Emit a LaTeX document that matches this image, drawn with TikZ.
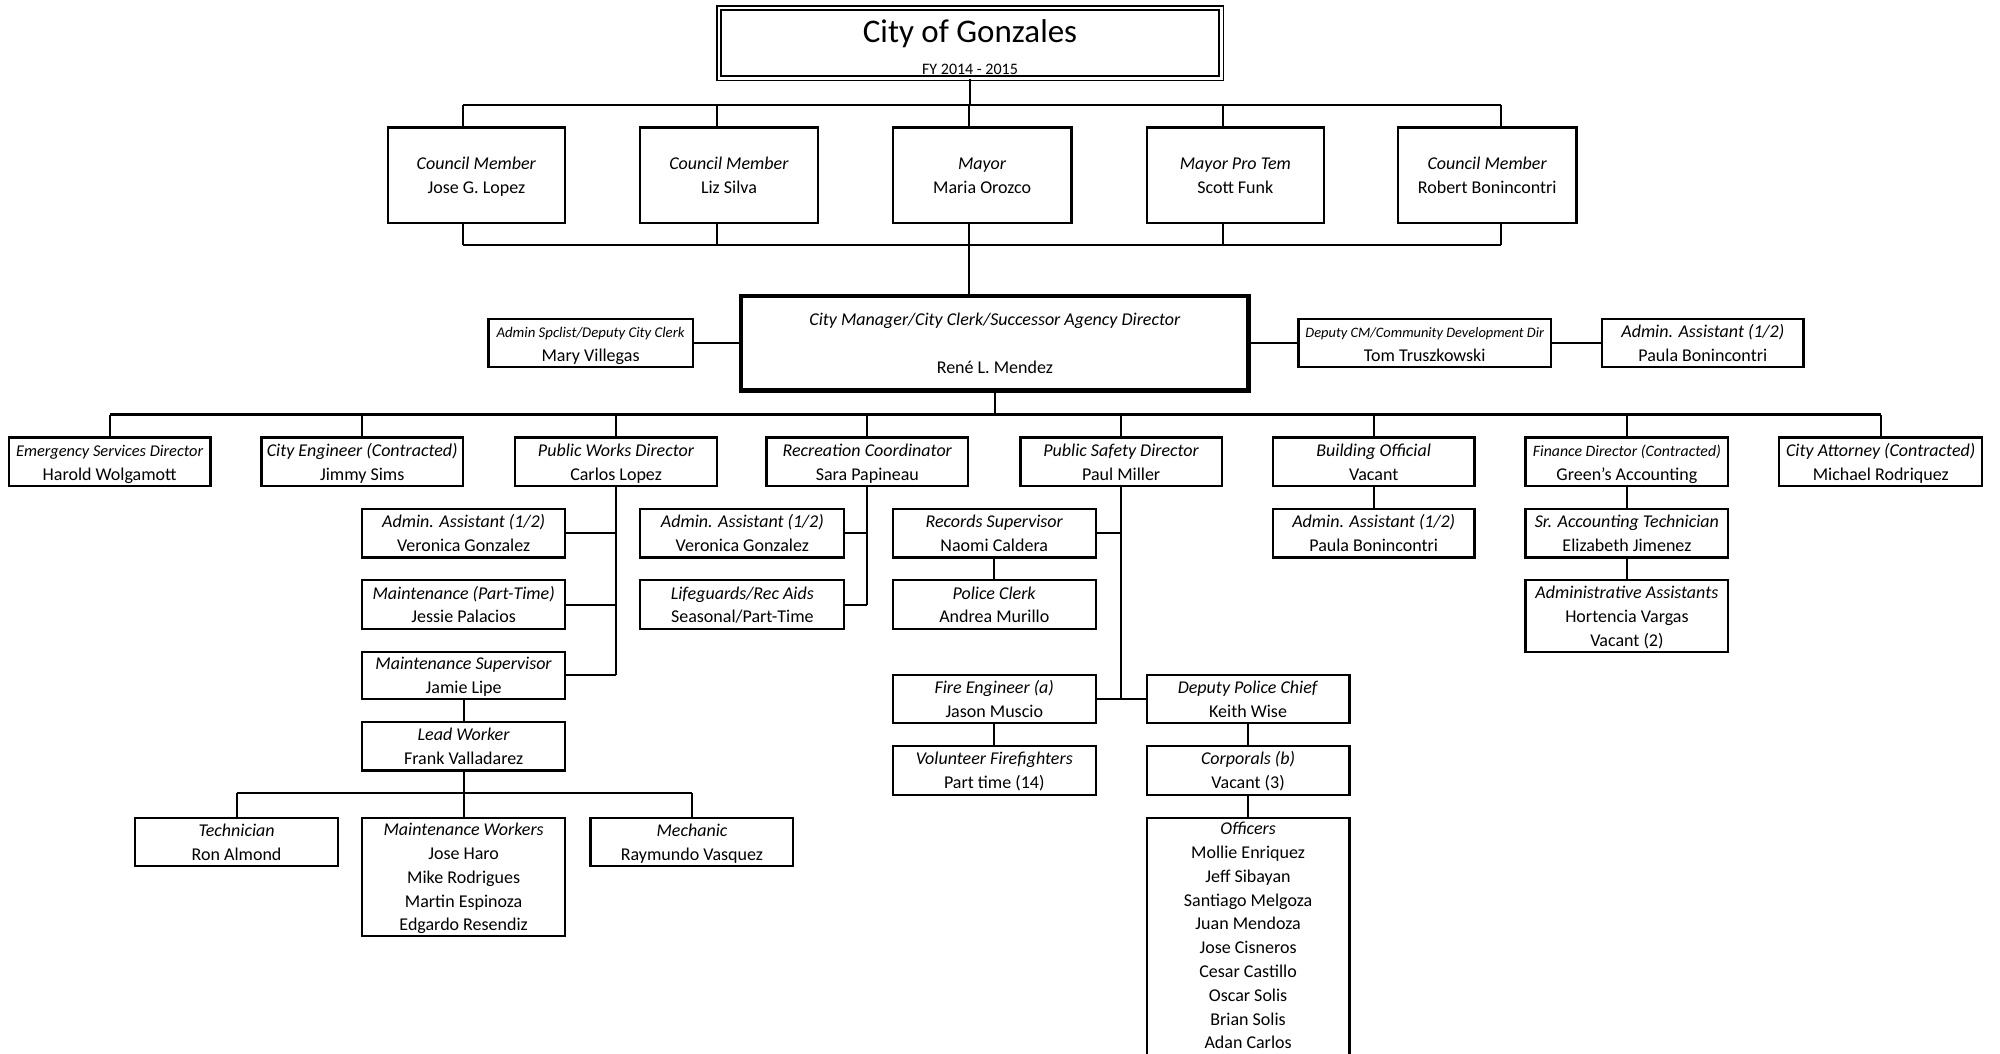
\documentclass[tikz,border=0pt]{standalone}
\usepackage{fontspec}
\setmainfont{Carlito}
\usetikzlibrary{fit}
\newcommand\ob[7][]{\node[box,#1,fit={(#3,#4) (#5,#6)}] (#2) {};
  \node[txt] (#2-t) at ([yshift=-0.8pt]#2.center) {\strut#7\strut};}
\newcommand\smit[2]{{\fontsize{#1}{11.9}\selectfont\itshape #2}}
\begin{document}
\begin{tikzpicture}[x=0.6378pt,y=-0.6378pt,
  box/.style={draw,line width=1.1pt,inner sep=0pt},
  txt/.style={inner sep=0pt,align=center,font=\fontsize{9}{11.9}\selectfont},
  ln/.style={line width=1.1pt}]
\useasboundingbox (0,0) rectangle (1568,826);
\clip (0,0) rectangle (1568,826);
\fill[white] (0,0) rectangle (1568,826);
% title
\node[draw,double,double distance=1.2pt,line width=0.9pt,inner sep=0pt,fit={(563.5,6.5) (957.5,61.5)}] (title) {};
\node[anchor=base,font=\fontsize{16.5}{18}\selectfont] (ttl) at (760.5,33.5) {City of Gonzales};
\node[anchor=base,font=\fontsize{8}{10}\selectfont] (fy) at (760.5,58.5) {FY 2014 - 2015};
% council
\ob{c1}{304}{100}{443}{175}{\textit{Council Member}\\Jose G. Lopez}
\ob{c2}{502}{100}{641}{175}{\textit{Council Member}\\Liz Silva}
\ob{c3}{700}{100}{840}{175}{\textit{Mayor}\\Maria Orozco}
\ob{c4}{899}{100}{1038}{175}{\textit{Mayor Pro Tem}\\Scott Funk}
\ob{c5}{1096}{100}{1236}{175}{\textit{Council Member}\\Robert Bonincontri}
% city manager row
\ob[line width=2.3pt]{cm}{581}{232}{979}{306}{\textit{City Manager/City Clerk/Successor Agency Director}\\[12pt]Ren\'e L. Mendez}
\ob{as}{383}{250}{543}{288}{\smit{7.4}{Admin Spclist/Deputy City Clerk}\\Mary Villegas}
\ob{dcm}{1018}{250}{1216}{288}{\smit{7.2}{Deputy CM/Community Development Dir}\\Tom Truszkowski}
\ob{aa0}{1256}{250}{1414}{288}{\textit{Admin. Assistant (1/2)}\\Paula Bonincontri}
% departments
\ob{d1}{7}{343}{165}{381}{\smit{8.2}{Emergency Services Director}\\Harold Wolgamott}
\ob{d2}{205}{343}{363}{381}{\textit{City Engineer (Contracted)}\\Jimmy Sims}
\ob{d3}{404}{343}{562}{381}{\textit{Public Works Director}\\Carlos Lopez}
\ob{d4}{601}{343}{759}{381}{\textit{Recreation Coordinator}\\Sara Papineau}
\ob{d5}{800}{343}{958}{381}{\textit{Public Safety Director}\\Paul Miller}
\ob{d6}{998}{343}{1156}{381}{\textit{Building Official}\\Vacant}
\ob{d7}{1196}{343}{1355}{381}{\smit{7.9}{Finance Director (Contracted)}\\Green's Accounting}
\ob{d8}{1395}{343}{1554}{381}{\textit{City Attorney (Contracted)}\\Michael Rodriquez}
% public works
\ob{pw1}{284}{399}{443}{437}{\textit{Admin. Assistant (1/2)}\\Veronica Gonzalez}
\ob{pw2}{284}{455}{443}{493}{\textit{Maintenance (Part-Time)}\\Jessie Palacios}
\ob{pw3}{284}{511}{443}{548}{\textit{Maintenance Supervisor}\\Jamie Lipe}
\ob{lw}{284}{566}{443}{604}{\textit{Lead Worker}\\Frank Valladarez}
\ob{tech}{106}{641}{265}{679}{\textit{Technician}\\Ron Almond}
\ob{mw}{284}{641}{443}{734}{\textit{Maintenance Workers}\\Jose Haro\\Mike Rodrigues\\Martin Espinoza\\Edgardo Resendiz}
\ob{mech}{463}{641}{622}{679}{\textit{Mechanic}\\Raymundo Vasquez}
% recreation
\ob{r1}{502}{399}{662}{437}{\textit{Admin. Assistant (1/2)}\\Veronica Gonzalez}
\ob{r2}{502}{455}{662}{493}{\textit{Lifeguards/Rec Aids}\\Seasonal/Part-Time}
% public safety
\ob{ps1}{700}{399}{859}{437}{\textit{Records Supervisor}\\Naomi Caldera}
\ob{ps2}{700}{455}{859}{493}{\textit{Police Clerk}\\Andrea Murillo}
\ob{fe}{700}{529}{859}{567}{\textit{Fire Engineer (a)}\\Jason Muscio}
\ob{vf}{700}{585}{859}{623}{\textit{Volunteer Firefighters}\\Part time (14)}
\ob{dpc}{899}{529}{1058}{567}{\textit{Deputy Police Chief}\\Keith Wise}
\ob{corp}{899}{585}{1058}{623}{\textit{Corporals (b)}\\Vacant (3)}
\node[box,fit={(899,641) (1058,850)}] (off) {};
\node[txt] (off-t) at ([yshift=-1pt]978.5,733) {\strut\textit{Officers}\\Mollie Enriquez\\Jeff Sibayan\\Santiago Melgoza\\Juan Mendoza\\Jose Cisneros\\Cesar Castillo\\Oscar Solis\\Brian Solis\\Adan Carlos\strut};
% building, finance
\ob{bo1}{998}{399}{1156}{437}{\textit{Admin. Assistant (1/2)}\\Paula Bonincontri}
\ob{f1}{1196}{399}{1355}{437}{\textit{Sr. Accounting Technician}\\Elizabeth Jimenez}
\ob{f2}{1196}{455}{1355}{511}{\textit{Administrative Assistants}\\Hortencia Vargas\\Vacant (2)}
% connectors: council
\coordinate (t1) at (363,82); \coordinate (t2) at (562,82); \coordinate (t3) at (760,82);
\coordinate (t4) at (959,82); \coordinate (t5) at (1177,82);
\coordinate (b1) at (363,192); \coordinate (b2) at (562,192); \coordinate (b3) at (760,192);
\coordinate (b4) at (959,192); \coordinate (b5) at (1177,192);
\draw[ln] (title.south) -- (title.south |- t1);
\draw[ln] (t1) -- (t5);
\draw[ln] (b1) -- (b5);
\foreach \i in {1,...,5}{
  \draw[ln] (t\i) -- (t\i |- c\i.north);
  \draw[ln] (b\i) -- (b\i |- c\i.south);
}
\draw[ln] (b3) -- (b3 |- cm.north);
\draw[ln] (as.east) -- (as.east -| cm.west);
\draw[ln] (dcm.west -| cm.east) -- (dcm.west);
\draw[ln] (dcm.east) -- (aa0.west);
% departments
\coordinate (dbus) at (780,325);
\draw[ln] (cm.south) -- (cm.south |- dbus);
\draw[ln] (d1.north |- dbus) -- (d8.north |- dbus);
\foreach \i in {1,...,8}{ \draw[ln] (d\i.north) -- (d\i.north |- dbus); }
% public works
\draw[ln] (d3.south) -- (d3.south |- pw3.east);
\foreach \n in {pw1,pw2,pw3}{ \draw[ln] (\n.east) -- (\n.east -| d3.south); }
\draw[ln] (pw3.south) -- (lw.north);
\coordinate (lwbus) at (363,622);
\draw[ln] (lw.south) -- (lw.south |- lwbus);
\draw[ln] (tech.north |- lwbus) -- (mech.north |- lwbus);
\foreach \n in {tech,mw,mech}{ \draw[ln] (\n.north) -- (\n.north |- lwbus); }
% recreation
\draw[ln] (d4.south) -- (d4.south |- r2.east);
\foreach \n in {r1,r2}{ \draw[ln] (\n.east) -- (\n.east -| d4.south); }
% public safety
\draw[ln] (d5.south) -- (d5.south |- fe.east);
\draw[ln] (ps1.east) -- (ps1.east -| d5.south);
\draw[ln] (ps1.south) -- (ps2.north);
\draw[ln] (fe.east) -- (dpc.west);
\draw[ln] (fe.south) -- (vf.north);
\draw[ln] (dpc.south) -- (corp.north);
\draw[ln] (corp.south) -- (off.north);
% building, finance
\draw[ln] (d6.south) -- (bo1.north);
\draw[ln] (d7.south) -- (f1.north);
\draw[ln] (f1.south) -- (f2.north);
\end{tikzpicture}
\end{document}
